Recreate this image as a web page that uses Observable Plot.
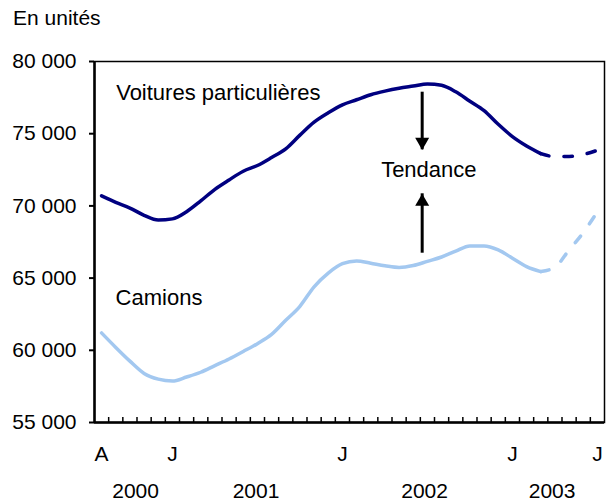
<!DOCTYPE html>
<html><head><meta charset="utf-8">
<script src="https://cdn.jsdelivr.net/npm/d3@7"></script>
<script src="https://cdn.jsdelivr.net/npm/@observablehq/plot@0.6"></script>
<style>body{margin:0;background:#fff;}</style>
</head><body><div id="chart"></div>
<script>
// Months indexed 0..35 : août 2000 .. juillet 2003
const monthIndex = d3.range(36);
const voitures = [70700,70250,69850,69350,69020,69100,69600,70350,71150,71800,72400,72800,73350,73950,74900,75800,76450,77000,77350,77700,77950,78150,78300,78450,78350,77900,77250,76600,75650,74800,74150,73620];
const voituresTendance = [73620,73420,73420,73560,73850]; // idx 31..35
const camions = [61200,60200,59250,58400,58000,57870,58150,58480,58940,59400,59920,60460,61100,62080,63050,64400,65350,66000,66190,66030,65860,65740,65870,66160,66460,66870,67230,67230,66950,66380,65800,65450];
const camionsTendance = [65450,65750,66950,68150,69600]; // idx 31..35
const monthLabels = ["A","J","J","J","J"];
const monthLabelIdx = [0,5,17,29,35];
const yearLabels = ["2000","2001","2002","2003"];
const yearLabelPos = [2.4,10.9,22.8,31.8];
const yTicks = [55000,60000,65000,70000,75000,80000];
const seriesNames = ["Voitures particulières","Camions"];
const seriesNameX = [1.03,0.99];
const seriesNameY = [77850,63620];
const trendLabel = "Tendance";
const trendLabelX = 23.1, trendLabelY = 72490;
const arrowX = [22.63,22.63];
const arrowTail = [77874,66724];
const arrowTip = [73885,70838];

const darkBlue = "#000080", lightBlue = "#a3c8f0";
const fmt = d => d3.format(",")(d).replace(/,/g, " ");
const tab = (vals, start) => vals.map((v,i)=>({i: start+i, v}));
const boundaries = d3.range(0.5, 35, 1);

const chart = Plot.plot({
  width: 608, height: 502,
  marginLeft: 94, marginRight: 4, marginTop: 61, marginBottom: 80,
  x: {type: "linear", domain: [-0.5, 35.5], axis: null},
  y: {domain: [55000, 80000], axis: null},
  style: {fontFamily: "Arial, 'Liberation Sans', sans-serif", fontSize: "21px", color: "#000", background: "#fff"},
  marks: [
    Plot.frame({stroke: "#000", strokeWidth: 1.5}),
    Plot.axisY({ticks: yTicks, tickFormat: fmt, tickSize: 5, tickPadding: 13, strokeWidth: 2, label: null, fontSize: 21}),
    Plot.axisX({ticks: boundaries, tickSize: 5, dy: -5, tickFormat: () => "", label: null, strokeWidth: 1.5}),
    Plot.ruleX([-0.5], {stroke: "#000", strokeWidth: 2.5}),
    Plot.ruleY([55000], {stroke: "#000", strokeWidth: 2.5}),
    Plot.line(tab(voitures, 0), {x: "i", y: "v", stroke: darkBlue, strokeWidth: 3.5, curve: "monotone-x"}),
    Plot.line(tab(voituresTendance, 31), {x: "i", y: "v", stroke: darkBlue, strokeWidth: 3.5, strokeDasharray: "8.5,15", curve: "monotone-x"}),
    Plot.line(tab(camions, 0), {x: "i", y: "v", stroke: lightBlue, strokeWidth: 3.5, curve: "monotone-x"}),
    Plot.line(tab(camionsTendance, 31), {x: "i", y: "v", stroke: lightBlue, strokeWidth: 3.5, strokeDasharray: "8.5,15", curve: "monotone-x"}),
    Plot.text(seriesNames, {x: (d,i) => seriesNameX[i], y: (d,i) => seriesNameY[i], text: d => d, textAnchor: "start", lineAnchor: "middle", fontSize: 22}),
    Plot.text([trendLabel], {x: () => trendLabelX, y: () => trendLabelY, text: d => d, textAnchor: "middle", lineAnchor: "middle", fontSize: 22}),
    Plot.ruleX(arrowX, {x: d => d, y1: (d,i) => arrowTail[i], y2: (d,i) => arrowTip[i], stroke: "#000", strokeWidth: 3}),
    Plot.dot([0], {x: () => arrowX[0], y: () => arrowTip[0], symbol: "triangle", r: 5.2, rotate: 180, dy: -8, fill: "#000", stroke: "none"}),
    Plot.dot([0], {x: () => arrowX[1], y: () => arrowTip[1], symbol: "triangle", r: 5.2, rotate: 0, dy: 8, fill: "#000", stroke: "none"}),
    Plot.text(monthLabelIdx, {x: d => d, text: (d,i) => monthLabels[i], frameAnchor: "bottom", dy: 31.5, lineAnchor: "middle", fontSize: 21}),
    Plot.text(yearLabelPos, {x: d => d, text: (d,i) => yearLabels[i], frameAnchor: "bottom", dy: 68.5, lineAnchor: "middle", fontSize: 21}),
    Plot.text(["En unités"], {text: d => d, frameAnchor: "top-left", dx: -81.5, dy: -43.5, textAnchor: "start", lineAnchor: "middle", fontSize: 21})
  ]
});
document.getElementById("chart").appendChild(chart);
</script>
</body></html>
